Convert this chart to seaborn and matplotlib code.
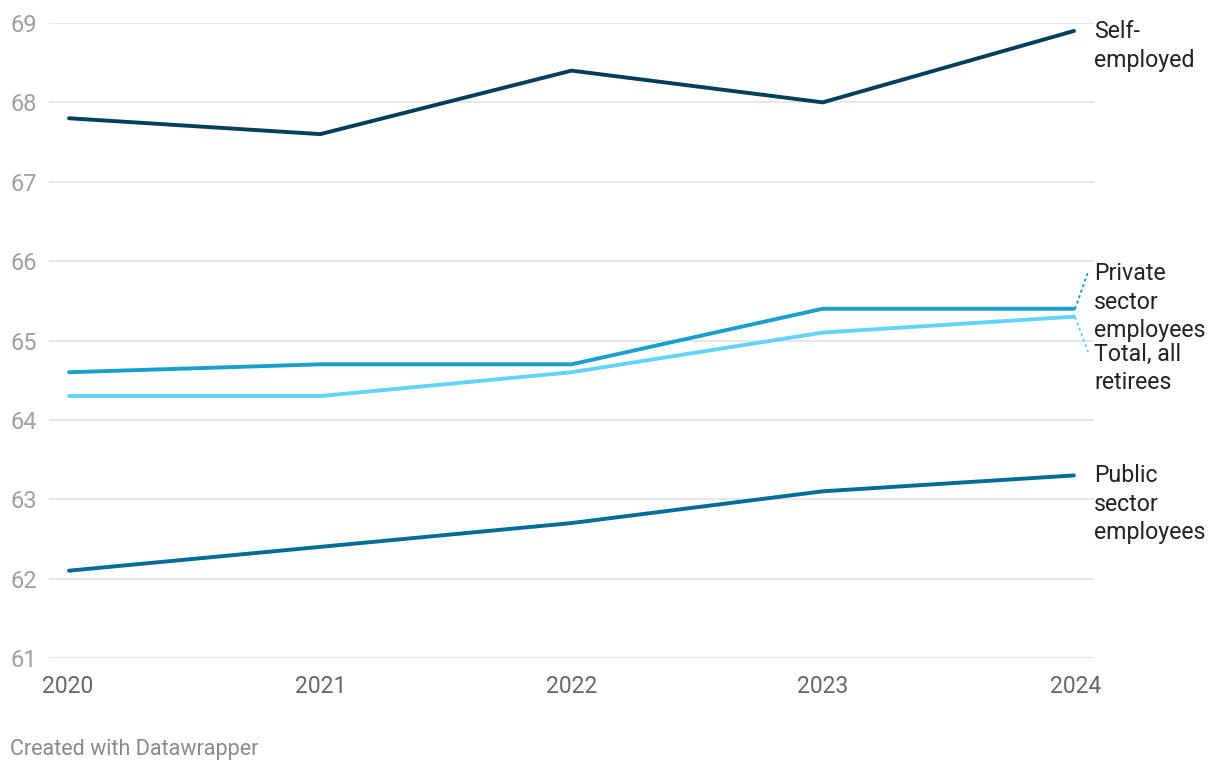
import matplotlib
matplotlib.use("Agg")
import matplotlib.pyplot as plt
import seaborn as sns
import pandas as pd
from matplotlib.transforms import ScaledTranslation, blended_transform_factory

years = [2020, 2021, 2022, 2023, 2024]
self_employed = [67.8, 67.6, 68.4, 68.0, 68.9]
private_sector = [64.6, 64.7, 64.7, 65.4, 65.4]
total_all = [64.3, 64.3, 64.6, 65.1, 65.3]
public_sector = [62.1, 62.4, 62.7, 63.1, 63.3]

series_names = ["Self-employed", "Private sector employees", "Total, all retirees", "Public sector employees"]
series_values = [self_employed, private_sector, total_all, public_sector]
colors = ["#003f5c", "#18a0cd", "#63d3fb", "#006d96"]

rows = []
for name, vals in zip(series_names, series_values):
    for y, v in zip(years, vals):
        rows.append({"year": y, "value": v, "series": name})
df = pd.DataFrame(rows)

sns.set_theme(style="white")
plt.rcParams["font.family"] = ["Roboto", "DejaVu Sans"]

fig = plt.figure(figsize=(12.2, 7.74), dpi=100)
ax = fig.add_axes([49 / 1220, 1 - 658 / 774, (1094 - 49) / 1220, (658 - 23) / 774])

sns.lineplot(data=df, x="year", y="value", hue="series", palette=dict(zip(series_names, colors)),
             linewidth=2.8, ax=ax, legend=False, clip_on=False)

ax.set_xlim(2020 - 0.0797, 2024 + 0.0797)
ax.set_ylim(61, 69)
ax.set_yticks(range(61, 70))
ax.set_xticks(years)
ax.set_xticklabels([str(y) for y in years])
ax.grid(axis="y", color="#e3e3e3", linewidth=1.2)
ax.grid(axis="x", visible=False)
for s in ax.spines.values():
    s.set_visible(False)
ax.set_xlabel("")
ax.set_ylabel("")
ax.tick_params(axis="y", length=0, pad=0, labelsize=17, labelcolor="#a0a0a0")
ax.tick_params(axis="x", length=0, pad=12, labelsize=16.5, labelcolor="#666666")
for lbl in ax.get_yticklabels():
    lbl.set_horizontalalignment("left")
    lbl.set_transform(blended_transform_factory(fig.transFigure, ax.transData))
    lbl.set_x(10 / 1220)

xl = ax.get_xticklabels()
xl[0].set_horizontalalignment("left")
xl[-1].set_horizontalalignment("right")
xl[0].set_transform(xl[0].get_transform() + ScaledTranslation(-27 / 100, 0, fig.dpi_scale_trans))
xl[-1].set_transform(xl[-1].get_transform() + ScaledTranslation(27 / 100, 0, fig.dpi_scale_trans))

tx = 1094 / 1220
def fy(py):
    return 1 - py / 774
label_kw = dict(transform=fig.transFigure, fontsize=16.7, color="#222222", va="center", ha="left")
for i, t in enumerate(["Self-", "employed"]):
    fig.text(tx, fy(31 + 29 * i), t, **label_kw)
for i, t in enumerate(["Private", "sector", "employees"]):
    fig.text(tx, fy(274 + 28.5 * i), t, **label_kw)
for i, t in enumerate(["Total, all", "retirees"]):
    fig.text(tx, fy(354 + 28.5 * i), t, **label_kw)
for i, t in enumerate(["Public", "sector", "employees"]):
    fig.text(tx, fy(476 + 28.5 * i), t, **label_kw)

fig.add_artist(plt.Line2D([1075 / 1220, 1088 / 1220], [fy(309), fy(272)], transform=fig.transFigure,
                          color=colors[1], linestyle=(0, (1.5, 1.5)), linewidth=1.4))
fig.add_artist(plt.Line2D([1075 / 1220, 1088 / 1220], [fy(317), fy(352)], transform=fig.transFigure,
                          color=colors[2], linestyle=(0, (1.5, 1.5)), linewidth=1.4))

fig.text(10 / 1220, fy(750), "Created with Datawrapper", fontsize=15.5, color="#8a8a8a", va="center", ha="left")

fig.savefig("out.png", dpi=100)
